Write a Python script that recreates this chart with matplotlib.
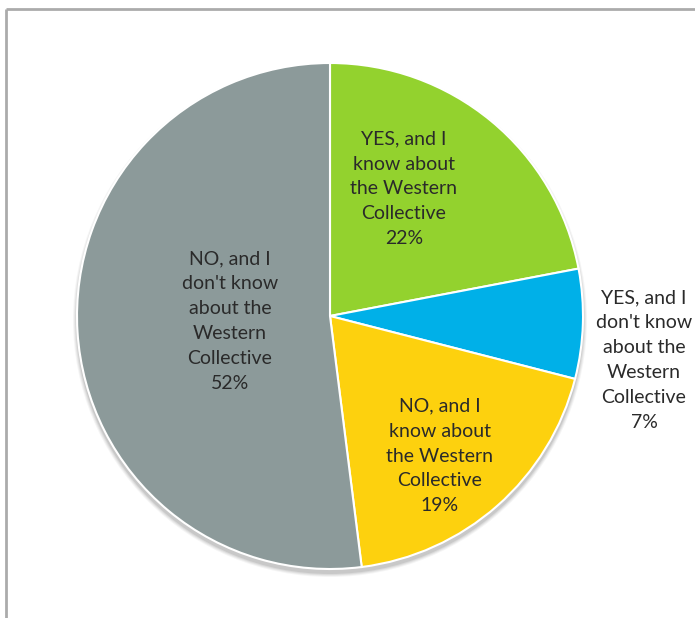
import matplotlib
matplotlib.use("Agg")
import matplotlib.pyplot as plt
from matplotlib.patches import Circle
import numpy as np

labels = ["YES, and I\nknow about\nthe Western\nCollective",
          "YES, and I\ndon't know\nabout the\nWestern\nCollective",
          "NO, and I\nknow about\nthe Western\nCollective",
          "NO, and I\ndon't know\nabout the\nWestern\nCollective"]
values = [22, 7, 19, 52]
colors = ["#93D22E", "#00B0E8", "#FDD10E", "#8C9A9A"]

W, H = 695, 618
fig = plt.figure(figsize=(W / 100, H / 100), dpi=100)
ax = fig.add_axes([0, 0, 1, 1])
ax.set_xlim(0, W)
ax.set_ylim(0, H)
ax.set_aspect("equal")
ax.axis("off")

cx, cy, r = 330, H - 316, 253

# subtle drop shadow
for i, a in enumerate([0.04, 0.05, 0.06, 0.08]):
    ax.add_patch(Circle((cx, cy - 4), r + 4 - i, facecolor="black", alpha=a,
                        edgecolor="none", zorder=1))

wedges, _ = ax.pie(values, colors=colors, startangle=90, counterclock=False,
                   center=(cx, cy), radius=r, frame=True,
                   wedgeprops=dict(edgecolor="white", linewidth=1.5))
for w in wedges:
    w.set_zorder(2)
ax.set_xlim(0, W)
ax.set_ylim(0, H)
ax.axis("off")

# label centers (pixel offsets from pie center)
offsets = [(74, 127), (314, -44), (110, -140), (-100, -5)]
for lab, v, (dx, dy) in zip(labels, values, offsets):
    ax.text(cx + dx, cy + dy, f"{lab}\n{v}%", ha="center", va="center",
            fontsize=14, family="Lato", color="#2a2a2a", linespacing=1.57,
            zorder=3)

# frame lines (top and left)
ax.plot([5.5, W], [H - 8.5, H - 8.5], color="#ababab", lw=2, solid_capstyle="butt")
ax.plot([5.5, 5.5], [0, H - 8.5], color="#ababab", lw=2, solid_capstyle="butt")

fig.savefig("out.png", dpi=100)
